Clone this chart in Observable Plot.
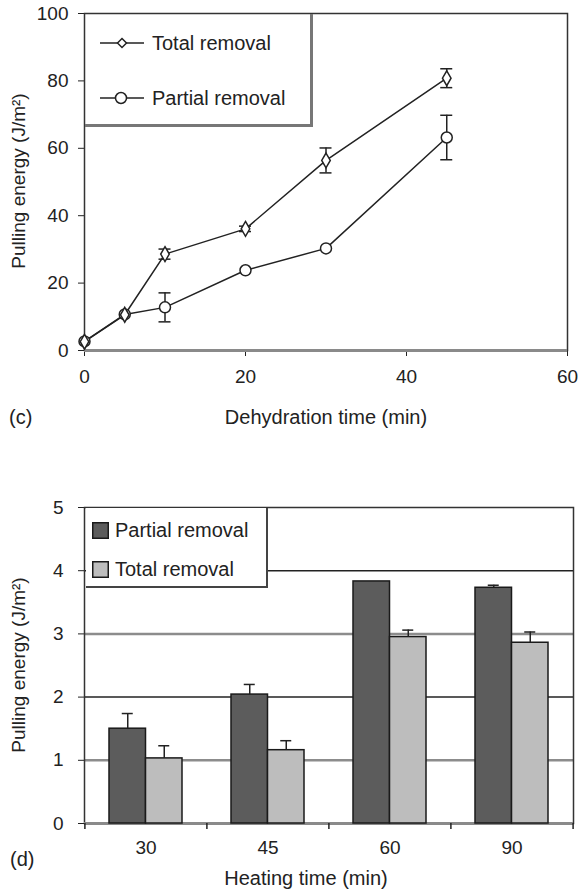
<!DOCTYPE html>
<html><head><meta charset="utf-8">
<script src="https://cdn.jsdelivr.net/npm/d3@7"></script>
<script src="https://cdn.jsdelivr.net/npm/@observablehq/plot@0.6"></script>
<style>
body{margin:0;background:#fff;font-family:"Liberation Sans",Arial,sans-serif;color:#222;}
#wrap{position:relative;width:578px;height:890px;overflow:hidden;}
.abs{position:absolute;}
.txt{position:absolute;font-size:20px;line-height:22px;white-space:nowrap;}
.ylab{position:absolute;font-size:19px;line-height:22px;white-space:nowrap;transform:translate(-50%,-50%) rotate(-90deg);}
.row{position:absolute;display:flex;align-items:center;font-size:20px;white-space:nowrap;}
</style></head><body>
<div id="wrap"></div>
<script>
// Panel (c)
const dehydrationTime = [0, 5, 10, 20, 30, 45];
const totalRemoval = [2.6, 10.6, 28.6, 36.1, 56.4, 80.8];
const totalRemovalErr = [0, 0, 1.5, 0.8, 3.7, 2.8];
const partialRemoval = [2.7, 10.7, 12.8, 23.8, 30.3, 63.2];
const partialRemovalErr = [0, 0, 4.3, 0, 0, 6.6];
// Panel (d)
const heatingTime = ["30", "45", "60", "90"];
const partialBar = [1.50, 2.04, 3.83, 3.73];
const partialBarErr = [0.24, 0.16, 0, 0.04];
const totalBar = [1.03, 1.16, 2.95, 2.86];
const totalBarErr = [0.20, 0.15, 0.11, 0.17];

const wrap = document.getElementById("wrap");
const font = {fontFamily: "'Liberation Sans', Arial, sans-serif", fontSize: "19px", color: "#222", background: "transparent", overflow: "visible"};

const cData = dehydrationTime.map((t, i) => ({t, total: totalRemoval[i], te: totalRemovalErr[i], partial: partialRemoval[i], pe: partialRemovalErr[i]}));
const errT = cData.filter(d => d.te > 0);
const errP = cData.filter(d => d.pe > 0);
const ink = {stroke: "#222", strokeWidth: 1.5};

const plotC = Plot.plot({
  width: 578, height: 440,
  marginLeft: 84, marginRight: 11, marginTop: 13, marginBottom: 90,
  style: font,
  x: {domain: [0, 60], ticks: [0, 20, 40, 60], tickSize: 6, tickPadding: 13, label: null},
  y: {domain: [0, 100], ticks: [0, 20, 40, 60, 80, 100], tickSize: 6, tickPadding: 10, label: null},
  marks: [
    Plot.frame({stroke: "#333", strokeWidth: 1.5}),
    Plot.ruleY([0], {stroke: "#8a8a8a", strokeWidth: 3}),
    Plot.line(cData, {x: "t", y: "total", ...ink}),
    Plot.line(cData, {x: "t", y: "partial", ...ink}),
    Plot.ruleX(errT, {x: "t", y1: d => d.total - d.te, y2: d => d.total + d.te, ...ink}),
    Plot.ruleY(errT, {x1: "t", x2: "t", y: d => d.total + d.te, insetLeft: -6, insetRight: -6, ...ink}),
    Plot.ruleY(errT, {x1: "t", x2: "t", y: d => d.total - d.te, insetLeft: -6, insetRight: -6, ...ink}),
    Plot.ruleX(errP, {x: "t", y1: d => d.partial - d.pe, y2: d => d.partial + d.pe, ...ink}),
    Plot.ruleY(errP, {x1: "t", x2: "t", y: d => d.partial + d.pe, insetLeft: -6, insetRight: -6, ...ink}),
    Plot.ruleY(errP, {x1: "t", x2: "t", y: d => d.partial - d.pe, insetLeft: -6, insetRight: -6, ...ink}),
    Plot.dot(cData, {x: "t", y: "partial", symbol: "circle", r: 5.5, fill: "white", ...ink}),
    Plot.dot(cData, {x: "t", y: "total", symbol: "diamond", r: 4.5, fill: "white", ...ink})
  ]
});
plotC.style.position = "absolute"; plotC.style.left = "0px"; plotC.style.top = "0px";
wrap.appendChild(plotC);

// Panel (d)
const dData = heatingTime.map((h, i) => ({h, p: partialBar[i], pe: partialBarErr[i], t: totalBar[i], te: totalBarErr[i]}));
const half = 18.25;
const plotD = Plot.plot({
  width: 578, height: 450,
  marginLeft: 84, marginRight: 5, marginTop: 67, marginBottom: 67,
  style: font,
  x: {domain: heatingTime, paddingInner: 0.403, paddingOuter: 0.2015, tickSize: 0, tickPadding: 17, label: null},
  y: {domain: [0, 5], ticks: [0, 1, 2, 3, 4, 5], tickFormat: d3.format("d"), tickSize: 6, tickPadding: 15, label: null},
  marks: [
    Plot.ruleY([1, 3], {stroke: "#8c8c8c", strokeWidth: 2.5}),
    Plot.ruleY([2, 4], {stroke: "#222", strokeWidth: 1.5}),
    Plot.frame({stroke: "#333", strokeWidth: 1.5}),
    Plot.ruleY([0], {stroke: "#8a8a8a", strokeWidth: 3}),
    Plot.barY(dData, {x: "h", y: "p", fill: "#5c5c5c", stroke: "#1a1a1a", strokeWidth: 1.5, insetRight: 2 * half}),
    Plot.barY(dData, {x: "h", y: "t", fill: "#bdbdbd", stroke: "#1a1a1a", strokeWidth: 1.5, insetLeft: 2 * half}),
    Plot.ruleX(dData.filter(d => d.pe > 0), {x: "h", y1: "p", y2: d => d.p + d.pe, dx: -half, ...ink}),
    Plot.tickY(dData.filter(d => d.pe > 0), {x: "h", y: d => d.p + d.pe, insetLeft: half - 5.5, insetRight: 3 * half - 5.5, ...ink}),
    Plot.ruleX(dData.filter(d => d.te > 0), {x: "h", y1: "t", y2: d => d.t + d.te, dx: half, ...ink}),
    Plot.tickY(dData.filter(d => d.te > 0), {x: "h", y: d => d.t + d.te, insetLeft: 3 * half - 5.5, insetRight: half - 5.5, ...ink}),
    Plot.ruleX(heatingTime, {x: d => d, y1: 0, y2: 0, dx: -61.1, insetBottom: -6, ...ink}),
    Plot.ruleX(heatingTime.slice(-1), {x: d => d, y1: 0, y2: 0, dx: 61.1, insetBottom: -6, ...ink})
  ]
});
plotD.style.position = "absolute"; plotD.style.left = "0px"; plotD.style.top = "440px";
wrap.appendChild(plotD);

function add(html) { wrap.insertAdjacentHTML("beforeend", html); }

// Labels
add(`<div class="ylab" style="left:19px;top:181px">Pulling energy (J/m²)</div>`);
add(`<div class="ylab" style="left:19px;top:665px">Pulling energy (J/m²)</div>`);
add(`<div class="txt" style="left:9px;top:406px">(c)</div>`);
add(`<div class="txt" style="left:326px;top:406px;transform:translateX(-50%)">Dehydration time (min)</div>`);
add(`<div class="txt" style="left:10px;top:848px">(d)</div>`);
add(`<div class="txt" style="left:306px;top:867px;transform:translateX(-50%)">Heating time (min)</div>`);

// Legend (c)
add(`<div class="abs" style="left:85px;top:14px;width:228px;height:113px;box-sizing:border-box;border-right:3px solid #777;border-bottom:3px solid #777;"></div>`);
add(`<div class="row" style="left:100px;top:33px;height:20px">
<svg width="44" height="20" style="margin-right:8px"><line x1="0" y1="10" x2="44" y2="10" stroke="#222" stroke-width="1.5"/><path d="M22 5.5 L26.5 10 L22 14.5 L17.5 10 Z" fill="#fff" stroke="#222" stroke-width="1.5"/></svg>Total removal</div>`);
add(`<div class="row" style="left:100px;top:88px;height:20px">
<svg width="44" height="20" style="margin-right:8px"><line x1="0" y1="10" x2="44" y2="10" stroke="#222" stroke-width="1.5"/><circle cx="21" cy="10" r="5.5" fill="#fff" stroke="#222" stroke-width="1.5"/></svg>Partial removal</div>`);

// Legend (d)
add(`<div class="abs" style="left:86px;top:508px;width:182px;height:80px;box-sizing:border-box;background:#fff;border-right:2px solid #444;border-bottom:2px solid #444;"></div>`);
add(`<div class="row" style="left:92px;top:520px;height:20px">
<svg width="17" height="17" style="margin-right:6px"><rect x="0.75" y="0.75" width="15.5" height="15.5" fill="#5c5c5c" stroke="#1a1a1a" stroke-width="1.5"/></svg>Partial removal</div>`);
add(`<div class="row" style="left:92px;top:559px;height:20px">
<svg width="17" height="17" style="margin-right:6px"><rect x="0.75" y="0.75" width="15.5" height="15.5" fill="#bdbdbd" stroke="#1a1a1a" stroke-width="1.5"/></svg>Total removal</div>`);
</script>
</body></html>
